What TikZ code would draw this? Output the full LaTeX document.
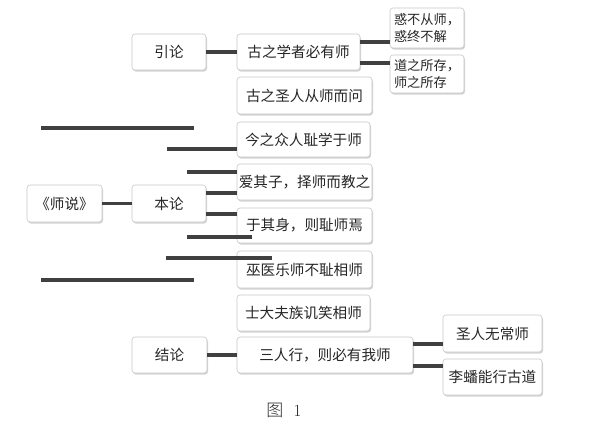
\documentclass[tikz,border=0pt]{standalone}
\usepackage{fontspec}
\newfontfamily\cjk{Noto Sans CJK SC}
\newfontfamily\cjkl{Noto Sans CJK SC Light}
\usetikzlibrary{shadows}
\begin{document}
\begin{tikzpicture}[x=1pt,y=-1pt,
  box/.style={draw=black!22, fill=white, rounded corners=3pt, line width=0.6pt,
    inner sep=0pt, text=black!85, font=\cjk\fontsize{14.6}{16}\selectfont, align=center,
    drop shadow={shadow xshift=1pt, shadow yshift=-1.6pt, opacity=0.28, fill=black!60}},
  small/.style={font=\cjk\fontsize{13.2}{16.5}\selectfont, align=left},
  conn/.style={draw=black!75, line width=3.2pt}]
\useasboundingbox[fill=white] (0,0) rectangle (600,425);
% left column
\node[box, minimum width=74pt, minimum height=36pt] (yl) at (169,52) {引论};
\node[box, minimum width=75pt, minimum height=37pt] (sz) at (64.5,203.5) {《师说》};
\node[box, minimum width=74pt, minimum height=37pt] (bl) at (169,203.5) {本论};
\node[box, minimum width=75pt, minimum height=36pt] (jl) at (169.5,355) {结论};
% middle column
\node[box, minimum width=123pt, minimum height=36pt] (g1) at (298.5,52) {古之学者必有师};
\node[box, minimum width=135pt, minimum height=37pt] (g2) at (304.5,95.5) {古之圣人从师而问};
\node[box, minimum width=133pt, minimum height=35pt] (jz) at (303.5,139.5) {今之众人耻学于师};
\node[box, minimum width=135pt, minimum height=36pt] (aq) at (304.5,182) {爱其子，择师而教之};
\node[box, minimum width=135pt, minimum height=35pt] (yq) at (304.5,225.5) {于其身，则耻师焉};
\node[box, minimum width=135pt, minimum height=37pt] (wy) at (304.5,269.5) {巫医乐师不耻相师};
\node[box, minimum width=133pt, minimum height=36pt] (sd) at (303.5,313) {士大夫族讥笑相师};
\node[box, minimum width=176pt, minimum height=36pt] (sr) at (325,355) {三人行，则必有我师};
% right column
\node[box, small, minimum width=74pt, minimum height=40pt] (hb) at (427,28) {惑不从师，\\惑终不解};
\node[box, small, minimum width=74pt, minimum height=38pt] (dz) at (427,74) {道之所存，\\师之所存};
\node[box, minimum width=99pt, minimum height=37pt] (sw) at (492.5,333.5) {圣人无常师};
\node[box, minimum width=99pt, minimum height=36pt] (lp) at (492.5,377) {李蟠能行古道};
% caption
\node[font=\fontsize{17}{19}\selectfont, text=black!85] (fig) at (284,410) {{\cjkl 图}\ \ 1};
% connectors
\draw[conn] (yl.east) -- (g1.west);
\draw[conn] ([yshift=10pt]g1.east) -- ([yshift=10pt]g1.east -| hb.west);
\draw[conn] ([yshift=-11pt]g1.east) -- ([yshift=-11pt]g1.east -| dz.west);
\draw[conn] (sz.east) -- (bl.west);
\draw[conn] ([yshift=10.5pt]bl.east) -- ([yshift=10.5pt]bl.east -| aq.west);
\draw[conn] ([yshift=-10.5pt]bl.east) -- ([yshift=-10.5pt]bl.east -| yq.west);
\draw[conn] (jl.east) -- (sr.west);
\draw[conn] ([yshift=11pt]sr.east) -- ([yshift=11pt]sr.east -| sw.west);
\draw[conn] ([yshift=-11pt]sr.east) -- ([yshift=-11pt]sr.east -| lp.west);
% stray lines
\coordinate (s1a) at (41,128);  \coordinate (s1b) at (194,128);
\coordinate (s2a) at (167,149);
\coordinate (s3a) at (187,172);
\coordinate (s4a) at (187,237); \coordinate (s4b) at (252,237);
\coordinate (s5a) at (166,258); \coordinate (s5b) at (272,258);
\coordinate (s6a) at (41,280);  \coordinate (s6b) at (194,280);
\draw[conn] (s1a) -- (s1b);
\draw[conn] (s2a) -- (s2a -| jz.west);
\draw[conn] (s3a) -- (s3a -| aq.west);
\draw[conn] (s4a) -- (s4b);
\draw[conn] (s5a) -- (s5b);
\draw[conn] (s6a) -- (s6b);
\end{tikzpicture}
\end{document}
